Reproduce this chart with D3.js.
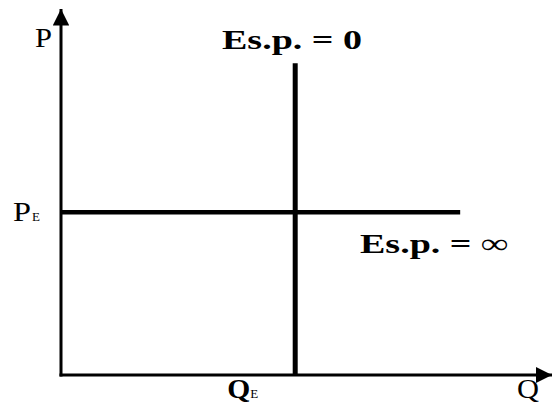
<!DOCTYPE html>
<html>
<head>
<meta charset="utf-8">
<script src="https://cdn.jsdelivr.net/npm/d3@7"></script>
<style>
  body { margin: 0; background: #fff; }
  text { font-family: "Liberation Serif", "Times New Roman", serif; fill: #000; }
</style>
</head>
<body>
<div id="chart"></div>
<script>
// equilibrium point and line extents (in chart units)
const equilibrium = { q: 47.7, p: 44.5 };
const perfectlyInelastic = [{ q: 47.7, p: 0 }, { q: 47.7, p: 85.2 }];
const perfectlyElastic = [{ q: 0, p: 44.5 }, { q: 81.3, p: 44.5 }];
const axisLabels = ["P", "Q"];
const curveLabels = ["Es.p. = 0", "Es.p. = \u221E"];

let width = 552, height = 405;
let svg = d3.select("#chart").append("svg")
    .attr("width", width)
    .attr("height", height);

let x = d3.scaleLinear().domain([0, 100]).range([61, 552]);
let y = d3.scaleLinear().domain([0, 100]).range([375, 9]);

svg.append("defs").append("marker")
    .attr("id", "arrow")
    .attr("viewBox", "0 0 10 10")
    .attr("refX", 10).attr("refY", 5)
    .attr("markerWidth", 5.5).attr("markerHeight", 5.5)
    .attr("markerUnits", "strokeWidth")
    .attr("orient", "auto")
    .append("path").attr("d", "M0,0 L10,5 L0,10 Z").attr("fill", "#000");

// axes
svg.append("line")
    .attr("x1", x(0)).attr("y1", y(0) + 1.5)
    .attr("x2", x(0)).attr("y2", y(100))
    .attr("stroke", "#000").attr("stroke-width", 3)
    .attr("marker-end", "url(#arrow)");
svg.append("line")
    .attr("x1", x(0) - 1.5).attr("y1", y(0))
    .attr("x2", x(100)).attr("y2", y(0))
    .attr("stroke", "#000").attr("stroke-width", 3)
    .attr("marker-end", "url(#arrow)");

let line = d3.line().x(d => x(d.q)).y(d => y(d.p));
svg.append("path").datum(perfectlyInelastic)
    .attr("d", line).attr("stroke", "#000").attr("stroke-width", 5).attr("fill", "none");
svg.append("path").datum(perfectlyElastic)
    .attr("d", line).attr("stroke", "#000").attr("stroke-width", 4.5).attr("fill", "none");

// labels
svg.append("text").attr("x", 35).attr("y", 47).attr("font-size", 27)
    .attr("textLength", 17).attr("lengthAdjust", "spacingAndGlyphs").text(axisLabels[0]);
svg.append("text").attr("x", 517).attr("y", 398).attr("font-size", 27)
    .attr("textLength", 22).attr("lengthAdjust", "spacingAndGlyphs").text(axisLabels[1]);

let pe = svg.append("text").attr("x", 13).attr("y", 221).attr("font-size", 27);
pe.append("tspan").attr("textLength", 18).attr("lengthAdjust", "spacingAndGlyphs").text("P");
pe.append("tspan").attr("font-size", 13).attr("dx", 1).text("E");

let qe = svg.append("text").attr("x", x(equilibrium.q) - 68).attr("y", 398).attr("font-size", 27);
qe.append("tspan").attr("font-weight", "bold").attr("textLength", 23).attr("lengthAdjust", "spacingAndGlyphs").text("Q");
qe.append("tspan").attr("font-size", 13).text("E");

svg.append("text").attr("x", 222).attr("y", 49).attr("font-size", 28).attr("font-weight", "bold")
    .attr("textLength", 140).attr("lengthAdjust", "spacingAndGlyphs").text(curveLabels[0]);
svg.append("text").attr("x", 360).attr("y", 253).attr("font-size", 28).attr("font-weight", "bold")
    .attr("textLength", 148).attr("lengthAdjust", "spacingAndGlyphs").text(curveLabels[1]);
</script>
</body>
</html>
